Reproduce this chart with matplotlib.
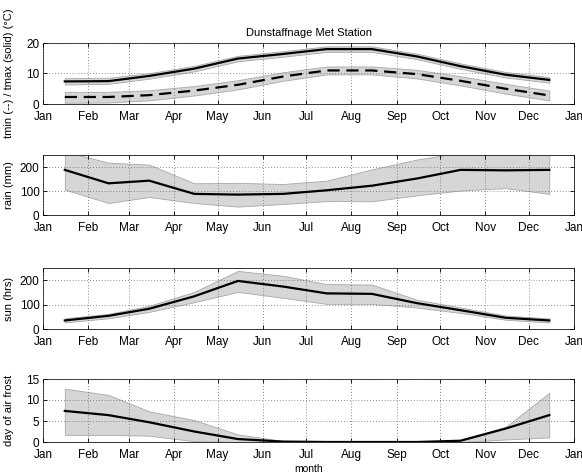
import matplotlib
matplotlib.use("Agg")
import matplotlib.pyplot as plt
import numpy as np

plt.rcParams['font.family'] = ['Liberation Sans', 'DejaVu Sans']

month_labels = ["Jan", "Feb", "Mar", "Apr", "May", "Jun", "Jul", "Aug", "Sep", "Oct", "Nov", "Dec", "Jan"]
month_starts = [0, 31, 59, 90, 120, 151, 181, 212, 243, 273, 304, 334, 365]
mid_month = [15, 45, 73, 104, 134, 165, 195, 226, 257, 287, 318, 348]

tmax = [7.4, 7.5, 9.2, 11.6, 14.9, 16.4, 18.0, 18.0, 15.6, 12.4, 9.6, 7.9]
tmax_lo = [6.4, 6.6, 8.3, 10.7, 14.0, 15.5, 17.1, 17.1, 14.7, 11.5, 8.7, 7.0]
tmax_hi = [8.5, 8.6, 10.1, 12.5, 15.8, 17.3, 18.9, 18.9, 16.5, 13.3, 10.5, 8.8]
tmin = [2.3, 2.3, 2.9, 4.4, 6.3, 9.0, 11.0, 11.0, 9.8, 7.6, 5.0, 2.8]
tmin_lo = [0.4, 0.5, 1.2, 2.8, 4.8, 7.6, 9.7, 9.7, 8.4, 6.1, 3.4, 1.2]
tmin_hi = [4.0, 4.0, 4.5, 5.9, 7.8, 10.4, 12.3, 12.3, 11.2, 9.1, 6.6, 4.4]

rain = [188, 132, 143, 88, 85, 88, 103, 122, 152, 188, 186, 188]
rain_lo = [106, 50, 75, 50, 35, 46, 58, 57, 82, 102, 112, 88]
rain_hi = [265, 218, 210, 132, 134, 129, 143, 190, 231, 260, 290, 285]

sun = [35, 54, 83, 134, 197, 174, 146, 144, 106, 77, 46, 35]
sun_lo = [27, 44, 70, 110, 152, 128, 103, 103, 88, 66, 38, 27]
sun_hi = [44, 62, 95, 152, 238, 218, 184, 182, 120, 88, 55, 43]

frost = [7.4, 6.4, 4.7, 2.5, 0.7, 0.1, 0.0, 0.0, 0.0, 0.3, 3.2, 6.4]
frost_lo = [1.7, 1.7, 1.5, 0.2, 0.0, 0.0, 0.0, 0.0, 0.0, 0.0, 0.6, 1.1]
frost_hi = [12.7, 11.2, 7.3, 5.2, 1.8, 0.25, 0.0, 0.0, 0.0, 0.5, 3.6, 11.7]

W, H = 582, 473
fig = plt.figure(figsize=(W / 100, H / 100), dpi=100)

def make_ax(top, bottom):
    return fig.add_axes([43 / W, (H - bottom) / H, (574 - 43) / W, (bottom - top) / H])

band_color = "#d6d6d6"
edge_color = "#a8a8a8"

def style(ax, ylim, yticks, ylabel):
    ax.set_xlim(0, 365)
    ax.set_ylim(*ylim)
    ax.set_xticks(month_starts)
    ax.set_xticklabels(month_labels)
    ax.set_yticks(yticks)
    ax.set_axisbelow(False)
    ax.grid(True, linestyle=(0, (1, 2.5)), color="#666666", linewidth=0.6)
    ax.tick_params(direction="in", length=3, width=0.6, labelsize=8.5,
                   top=True, right=True, colors="black")
    ax.tick_params(axis="x", pad=5)
    ax.tick_params(axis="y", pad=2.5)
    for s in ax.spines.values():
        s.set_linewidth(0.7)
        s.set_color("#333333")
    ax.set_ylabel(ylabel, fontsize=8)

def band(ax, lo, hi):
    ax.fill_between(mid_month, lo, hi, facecolor=band_color, edgecolor=edge_color,
                    linewidth=0.6, zorder=1)

ax1 = make_ax(43, 104)
band(ax1, tmax_lo, tmax_hi)
band(ax1, tmin_lo, tmin_hi)
ax1.plot(mid_month, tmax, color="black", linewidth=1.6, zorder=3)
ax1.plot(mid_month, tmin, color="black", linewidth=1.6, linestyle=(0, (5.5, 3)), zorder=3)
style(ax1, (0, 20), [0, 10, 20], "tmin (--) / tmax (solid) (\u00b0C)")
ax1.set_title("Dunstaffnage Met Station", fontsize=8, pad=5)

ax2 = make_ax(155, 215)
band(ax2, rain_lo, rain_hi)
ax2.plot(mid_month, rain, color="black", linewidth=1.6, zorder=3)
style(ax2, (0, 250), [0, 100, 200], "rain (mm)")

ax3 = make_ax(268, 329)
band(ax3, sun_lo, sun_hi)
ax3.plot(mid_month, sun, color="black", linewidth=1.6, zorder=3)
style(ax3, (0, 250), [0, 100, 200], "sun (hrs)")

ax4 = make_ax(379, 442)
band(ax4, frost_lo, frost_hi)
ax4.plot(mid_month, frost, color="black", linewidth=1.6, zorder=3)
style(ax4, (0, 15), [0, 5, 10, 15], "day of air frost")
ax4.set_xlabel("month", fontsize=7.5, labelpad=2)

for ax in (ax1, ax2, ax3, ax4):
    ax.yaxis.set_label_coords(-0.054, 0.5)

fig.savefig("out.png", dpi=100)
